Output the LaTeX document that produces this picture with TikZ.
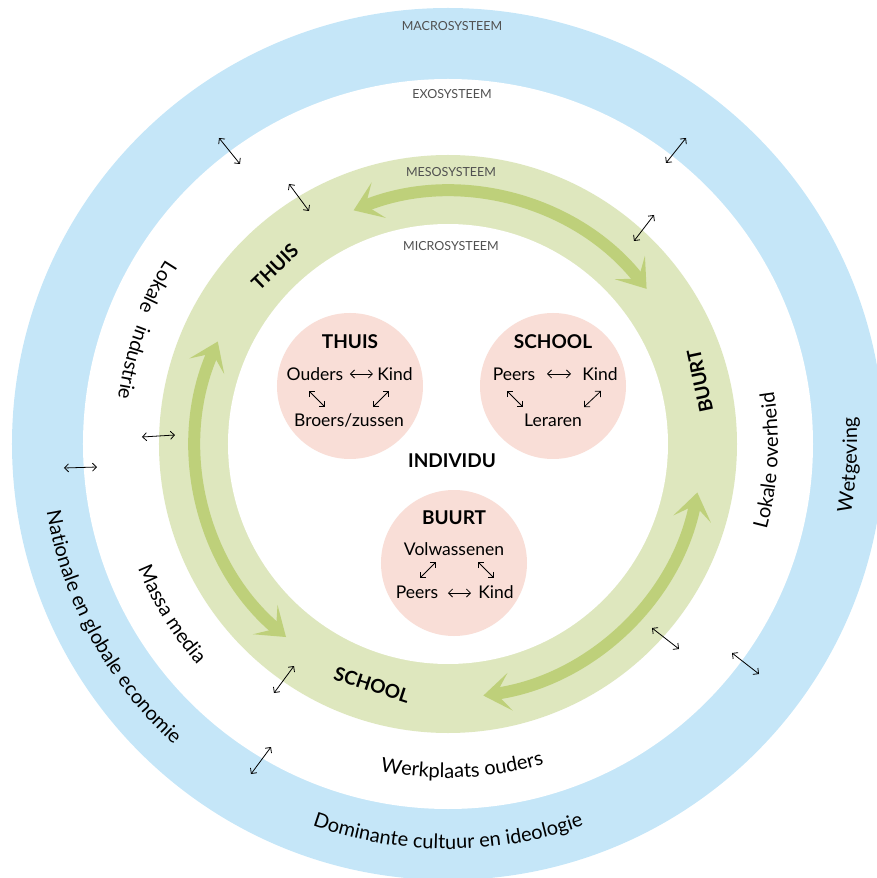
\documentclass[tikz,border=0pt]{standalone}
\usepackage{fontspec}
\setmainfont{Lato}
\usetikzlibrary{arrows.meta,decorations.text}
\definecolor{macroblue}{RGB}{197,230,248}
\definecolor{mesogreen}{RGB}{222,231,190}
\definecolor{arrowgreen}{RGB}{190,208,122}
\definecolor{micropink}{RGB}{249,222,215}
\definecolor{labelgray}{RGB}{80,80,80}
\newcommand\curvedfont{\fontsize{20}{20}\selectfont}
\begin{document}
\begin{tikzpicture}[x=1pt,y=1pt,
  syslabel/.style={text=labelgray,font=\fontsize{12.5}{13}\selectfont,inner sep=0pt,text height=9pt,text depth=0pt},
  headlabel/.style={font=\bfseries\fontsize{19}{20}\selectfont,inner sep=0pt,text height=13.5pt,text depth=0pt},
  bodylabel/.style={font=\fontsize{17.5}{18}\selectfont,inner sep=0pt,text height=12.5pt,text depth=0pt},
  pinkcircle/.style={circle,fill=micropink,minimum size=146pt,inner sep=0pt},
  smallarrow/.style={{Straight Barb[length=4pt,width=8pt]}-{Straight Barb[length=4pt,width=8pt]},line width=0.8pt},
  mesoarrow/.style={arrowgreen,line width=12pt,{Stealth[length=27pt 0 0,width=38pt 0,inset=14pt 0]}-{Stealth[length=27pt 0 0,width=38pt 0,inset=14pt 0]}},
  ringtext/.style={decorate,decoration={text along path,text align=center,text={#1}}}
]
\useasboundingbox (-448,-434) rectangle (428,444);
% rings
\fill[macroblue] (0,0) circle[radius=436];
\fill[white] (0,0) circle[radius=365];
\fill[mesogreen] (0,0) circle[radius=289];
\fill[white] (0,0) circle[radius=220];
% system labels
\node[syslabel] (macro) at (4,418) {MACROSYSTEEM};
\node[syslabel] (exo) at (4,350) {EXOSYSTEEM};
\node[syslabel] (meso) at (3,272) {MESOSYSTEEM};
\node[syslabel] (micro) at (3,198) {MICROSYSTEEM};
% meso arrows
\draw[mesoarrow] (112:252) arc[start angle=112,end angle=38,radius=252];
\draw[mesoarrow] (156:252) arc[start angle=156,end angle=230,radius=252];
\draw[mesoarrow] (-11:254) arc[start angle=-11,end angle=-82,radius=254];
% ring labels
\node[headlabel,rotate=44] (ringthuis) at (-173,177) {THUIS};
\node[headlabel,rotate=102] (ringbuurt) at (252,63) {BUURT};
\node[headlabel,rotate=-18] (ringschool) at (-76,-241) {SCHOOL};
% pink circles
\node[pinkcircle] (thuiscirc) at (-98,58) {};
\node[pinkcircle] (schoolcirc) at (105,58) {};
\node[pinkcircle] (buurtcirc) at (6,-119) {};
% thuis content
\node[headlabel] (thuistitle) at (-98,102) {THUIS};
\node[bodylabel] (ouders) at (-133,70) {Ouders};
\node[bodylabel] (kinda) at (-53,70) {Kind};
\node[bodylabel] (broers) at (-99,24) {Broers/zussen};
\coordinate (ta1) at (-98,70); \coordinate (ta2) at (-75,70);
\coordinate (tb1) at (-139,53); \coordinate (tb2) at (-123,37);
\coordinate (tc1) at (-75,37); \coordinate (tc2) at (-59,53);
\draw[smallarrow] (ta1) -- (ta2);
\draw[smallarrow] (tb1) -- (tb2);
\draw[smallarrow] (tc1) -- (tc2);
% school content
\node[headlabel] (schooltitle) at (105,102) {SCHOOL};
\node[bodylabel] (peersa) at (66,70) {Peers};
\node[bodylabel] (kindb) at (152,70) {Kind};
\node[bodylabel] (leraren) at (105,24) {Leraren};
\coordinate (sa1) at (99,70); \coordinate (sa2) at (123,70);
\coordinate (sb1) at (59,53); \coordinate (sb2) at (75,37);
\coordinate (sc1) at (136,37); \coordinate (sc2) at (153,53);
\draw[smallarrow] (sa1) -- (sa2);
\draw[smallarrow] (sb1) -- (sb2);
\draw[smallarrow] (sc1) -- (sc2);
% buurt content
\node[headlabel] (buurttitle) at (6,-74) {BUURT};
\node[bodylabel] (volw) at (6,-105) {Volwassenen};
\node[bodylabel] (peersb) at (-31,-148) {Peers};
\node[bodylabel] (kindc) at (48,-148) {Kind};
\coordinate (ba1) at (0,-149); \coordinate (ba2) at (23,-149);
\coordinate (bb1) at (-28,-134); \coordinate (bb2) at (-12,-118);
\coordinate (bc1) at (30,-118); \coordinate (bc2) at (46,-134);
\draw[smallarrow] (ba1) -- (ba2);
\draw[smallarrow] (bb1) -- (bb2);
\draw[smallarrow] (bc1) -- (bc2);
% individu
\node[headlabel] (individu) at (4,-17) {INDIVIDU};
% small black arrows between systems
\coordinate (x1a) at (-229,306); \coordinate (x1b) at (-208,280);
\coordinate (x2a) at (238,306); \coordinate (x2b) at (218,281);
\coordinate (x3a) at (-159,260); \coordinate (x3b) at (-139,233);
\coordinate (x4a) at (206,229); \coordinate (x4b) at (186,203);
\coordinate (x5a) at (-306,7); \coordinate (x5b) at (-273,9);
\coordinate (x6a) at (-384,-24); \coordinate (x6b) at (-351,-23);
\coordinate (x7a) at (204,-184); \coordinate (x7b) at (231,-205);
\coordinate (x8a) at (284,-209); \coordinate (x8b) at (311,-230);
\coordinate (x9a) at (-154,-222); \coordinate (x9b) at (-174,-249);
\coordinate (x10a) at (-177,-303); \coordinate (x10b) at (-197,-330);
\foreach \i in {1,...,10} {\draw[smallarrow] (x\i a) -- (x\i b);}
% curved texts
\path[ringtext={|\curvedfont|Dominante cultuur en ideologie}] (240:405) arc[start angle=240,end angle=300,radius=405];
\path[ringtext={|\curvedfont|Werkplaats ouders}] (250:334) arc[start angle=250,end angle=295,radius=334];
\path[ringtext={|\curvedfont|Nationale en globale economie}] (180:407) arc[start angle=180,end angle=237.2,radius=407];
\path[ringtext={|\curvedfont|Massa media}] (196:334) arc[start angle=196,end angle=227.2,radius=334];
\path[ringtext={|\curvedfont|Lokale}] (141.7:337) arc[start angle=141.7,end angle=161.7,radius=337];
\path[ringtext={|\curvedfont|industrie}] (155.5:333) arc[start angle=155.5,end angle=175.5,radius=333];
\path[ringtext={|\curvedfont|Lokale overheid}] (-25:330) arc[start angle=-25,end angle=19,radius=330];
\path[ringtext={|\curvedfont|Wetgeving}] (-15:409) arc[start angle=-15,end angle=9,radius=409];
\end{tikzpicture}
\end{document}
